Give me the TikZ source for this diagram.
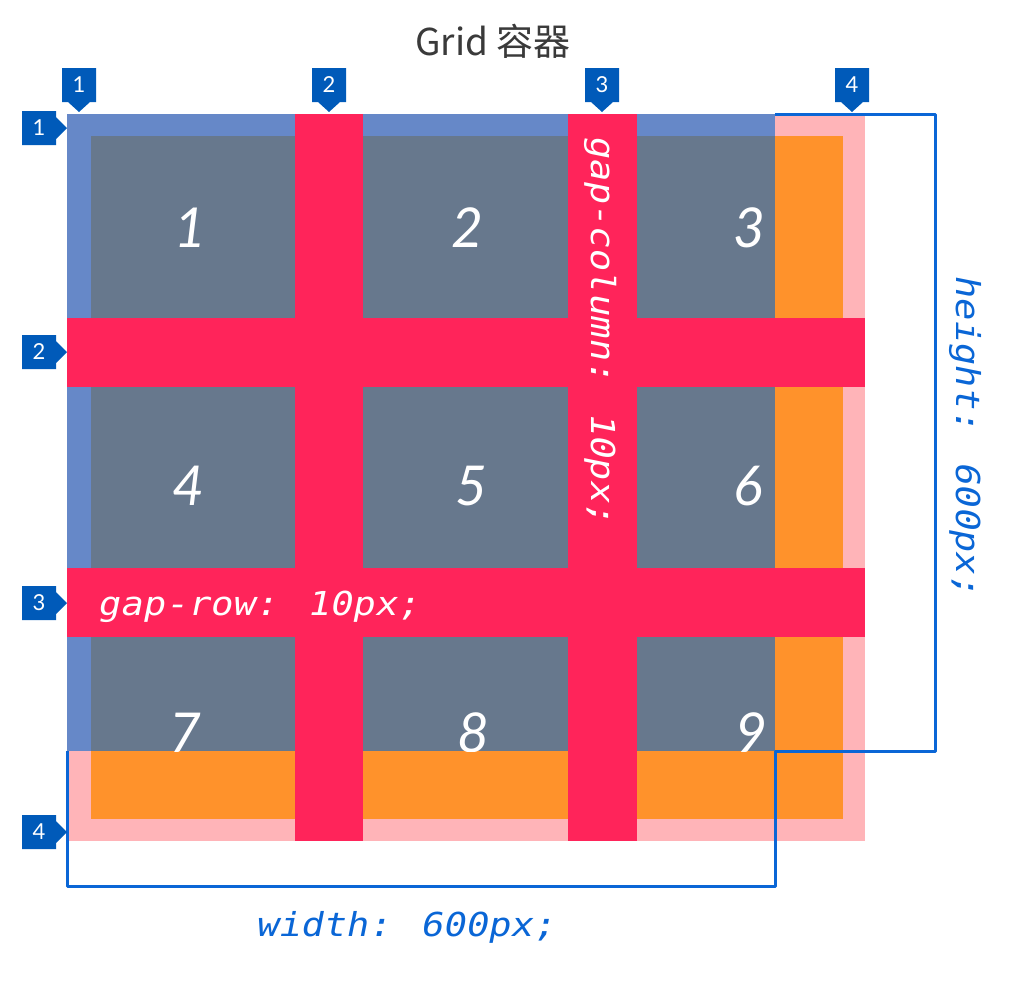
\documentclass[tikz,border=0pt]{standalone}
\usepackage{fontspec}
\newfontfamily\numfont{Lato}
\newfontfamily\codefont[FakeStretch=1.13,FakeSlant=0.2]{DejaVu Sans Mono}
\newfontfamily\cjkfont{Noto Sans CJK SC}
\definecolor{gridblue}{RGB}{102,136,200}
\definecolor{slate}{RGB}{103,120,141}
\definecolor{pinkc}{RGB}{255,180,184}
\definecolor{orangec}{RGB}{255,146,43}
\definecolor{gapred}{RGB}{255,36,90}
\definecolor{markblue}{RGB}{0,90,185}
\definecolor{linkblue}{RGB}{10,102,214}
\definecolor{titlegray}{RGB}{58,58,58}
\newcommand\mkTop[3]{%
  \fill[markblue] (#2-17,68) -- (#2+17,68) -- (#2+17,102) -- (#2+11,102) -- (#2,112) -- (#2-11,102) -- (#2-17,102) -- cycle;
  \node[marktxt] (#1) at (#2,85) {#3};}
\newcommand\mkLeft[3]{%
  \fill[markblue] (22,#2-17) -- (56,#2-17) -- (56,#2-11) -- (67,#2) -- (56,#2+11) -- (56,#2+17) -- (22,#2+17) -- cycle;
  \node[marktxt] (#1) at (39,#2) {#3};}
\begin{document}
\begin{tikzpicture}[x=1pt,y=-1pt,
  numtxt/.style={text=white,font=\numfont\itshape\fontsize{55}{60}\selectfont,anchor=base,inner sep=0pt},
  codetxt/.style={font=\codefont\fontsize{33}{36}\selectfont,inner sep=0pt},
  marktxt/.style={text=white,font=\numfont\fontsize{22}{24}\selectfont,inner sep=0pt},
  bracket/.style={draw=linkblue,line width=3pt,line join=round}]
\useasboundingbox (0,0) rectangle (1024,1004);
\fill[white] (0,0) rectangle (1024,1004);
% title
\node[text=titlegray,font=\cjkfont\fontsize{37}{40}\selectfont,anchor=base,inner sep=0pt] (title) at (493,55) {Grid 容器};
% container layers
\fill[pinkc] (67,114) rectangle (865,841);
\fill[gridblue] (67,114) rectangle (775,751);
\fill[orangec] (91,136) rectangle (843,819);
\fill[slate] (91,136) rectangle (775,751);
% cell numbers
\begin{scope}
\clip (91,136) rectangle (775,751);
\node[numtxt] (n1) at (190,247) {1};
\node[numtxt] (n2) at (467,247) {2};
\node[numtxt] (n3) at (749,247) {3};
\node[numtxt] (n4) at (188,505) {4};
\node[numtxt] (n5) at (471,505) {5};
\node[numtxt] (n6) at (748,505) {6};
\node[numtxt] (n7) at (185,752) {7};
\node[numtxt] (n8) at (473,752) {8};
\node[numtxt] (n9) at (751,752) {9};
\end{scope}
% gaps
\fill[gapred] (295,114) rectangle (363,841);
\fill[gapred] (568,114) rectangle (637,841);
\fill[gapred] (67,318) rectangle (865,387);
\fill[gapred] (67,568) rectangle (865,637);
\node[codetxt,text=white,anchor=base west] (gaprow) at (97,615) {gap-row: 10px;};
\node[codetxt,text=white,anchor=base west,rotate=-90] (gapcol) at (591,135) {gap-column: 10px;};
% size brackets
\draw[bracket] (775,114) -- (935,114) -- (935,751) -- (775,751) -- (775,886) -- (67,886) -- (67,751);
\node[codetxt,text=linkblue,anchor=base] (wlabel) at (405,936) {width: 600px;};
\node[codetxt,text=linkblue,anchor=base,rotate=-90] (hlabel) at (956,435) {height: 600px;};
% line markers
\mkTop{t1}{79}{1}
\mkTop{t2}{329}{2}
\mkTop{t3}{602}{3}
\mkTop{t4}{852}{4}
\mkLeft{l1}{128}{1}
\mkLeft{l2}{352}{2}
\mkLeft{l3}{603}{3}
\mkLeft{l4}{832}{4}
\end{tikzpicture}
\end{document}
